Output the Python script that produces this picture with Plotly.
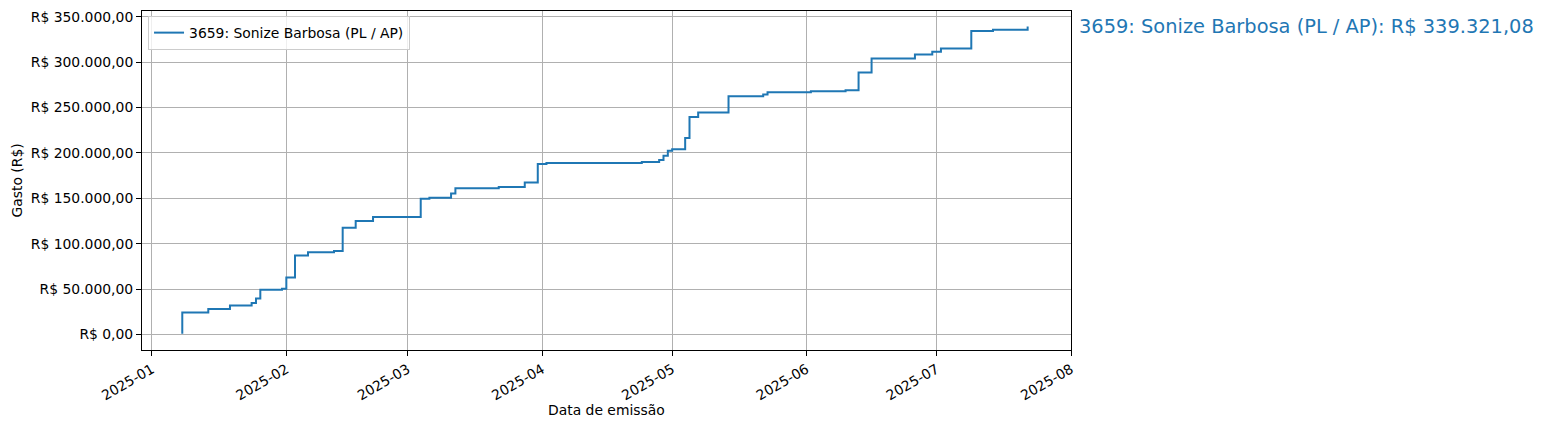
import plotly.graph_objects as go

# ---- data ----
series_name = "3659: Sonize Barbosa (PL / AP)"
dates = [
    "2025-01-08", "2025-01-08", "2025-01-08", "2025-01-14", "2025-01-19", "2025-01-19",
    "2025-01-24", "2025-01-25", "2025-01-25", "2025-01-26", "2025-01-31", "2025-02-01",
    "2025-02-03", "2025-02-06", "2025-02-12", "2025-02-14", "2025-02-17", "2025-02-21",
    "2025-03-04", "2025-03-06", "2025-03-11", "2025-03-12", "2025-03-22", "2025-03-28",
    "2025-03-31", "2025-04-02", "2025-04-24", "2025-04-28", "2025-04-29", "2025-04-30",
    "2025-05-01", "2025-05-04", "2025-05-05", "2025-05-07", "2025-05-14", "2025-05-22",
    "2025-05-23", "2025-06-02", "2025-06-10", "2025-06-13", "2025-06-16", "2025-06-26",
    "2025-06-30", "2025-07-02", "2025-07-09", "2025-07-14", "2025-07-22",
]
cumulative = [
    800, 5000, 24450, 28150, 30400, 32100,
    34750, 37300, 39800, 49400, 50450, 62800,
    87000, 90700, 92100, 117650, 125000, 129600,
    149450, 150550, 155350, 161200, 162600, 167400,
    187850, 188900, 190100, 192300, 197000, 202300,
    204100, 216350, 239500, 244500, 262400, 264250,
    266700, 267900, 269000, 288700, 304000, 308400,
    311400, 315000, 334400, 335700, 339321.08,
]
final_label = "R$ 339.321,08"

x_tickvals = ["2025-01-01", "2025-02-01", "2025-03-01", "2025-04-01",
              "2025-05-01", "2025-06-01", "2025-07-01", "2025-08-01"]
x_ticktext = ["2025-01", "2025-02", "2025-03", "2025-04",
              "2025-05", "2025-06", "2025-07", "2025-08"]
y_tickvals = [0, 50000, 100000, 150000, 200000, 250000, 300000, 350000]
y_ticktext = ["R$ 0,00", "R$ 50.000,00", "R$ 100.000,00", "R$ 150.000,00",
              "R$ 200.000,00", "R$ 250.000,00", "R$ 300.000,00", "R$ 350.000,00"]

x_title = "Data de emissão"
y_title = "Gasto (R$)"

# ---- styling ----
BLUE = "#1f77b4"
FONT = "DejaVu Sans"
FS = 13.9

fig = go.Figure()
fig.add_trace(go.Scatter(
    x=dates, y=cumulative, mode="lines", name=series_name,
    line=dict(color=BLUE, width=2, shape="hv"),
))

axis_common = dict(
    showgrid=True, gridcolor="#b0b0b0", gridwidth=1,
    showline=True, linecolor="black", linewidth=1, mirror=True,
    ticks="outside", ticklen=5, tickwidth=1, tickcolor="black",
    zeroline=False, tickfont=dict(family=FONT, size=FS, color="black"),
)

ymin = -0.05 * max(cumulative)
ymax = 1.05 * max(cumulative)

# page body has an 8px margin; figure sized so the plot lands where the reference has it
fig.update_layout(
    width=1530, height=414,
    margin=dict(l=134, r=467, t=3, b=72, autoexpand=False),
    paper_bgcolor="white", plot_bgcolor="white",
    font=dict(family=FONT, size=FS, color="black"),
    xaxis=dict(type="date", range=["2024-12-29 17:00", "2025-08-01 00:00"],
               tickvals=x_tickvals, ticktext=x_ticktext, tickangle=-30,
               **axis_common),
    yaxis=dict(range=[ymin, ymax], tickvals=y_tickvals, ticktext=y_ticktext,
               **axis_common),
    showlegend=True,
    legend=dict(x=0.0065, y=0.985, xanchor="left", yanchor="top",
                bgcolor="rgba(255,255,255,0.8)", bordercolor="#cccccc",
                borderwidth=1, font=dict(family=FONT, size=FS, color="black"),
                itemwidth=30, tracegroupgap=0),
)

fig.add_annotation(
    xref="paper", yref="y", x=1, y=cumulative[-1], xanchor="left", yanchor="middle",
    xshift=6, text=f"{series_name}: {final_label}", showarrow=False,
    font=dict(family=FONT, size=19.4, color=BLUE),
)
fig.add_annotation(
    xref="paper", yref="paper", x=0.5, y=0, xanchor="center", yanchor="middle",
    yshift=-60, text=x_title, showarrow=False,
    font=dict(family=FONT, size=FS, color="black"),
)
fig.add_annotation(
    xref="paper", yref="paper", x=0, y=0.5, xanchor="center", yanchor="middle",
    xshift=-126, text=y_title, textangle=-90, showarrow=False,
    font=dict(family=FONT, size=FS, color="black"),
)

fig.write_html("out.html")
